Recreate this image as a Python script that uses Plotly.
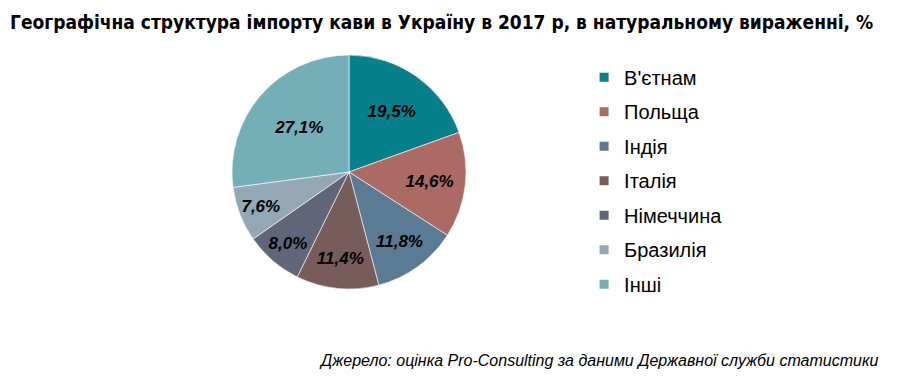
import plotly.graph_objects as go

countries = ["В'єтнам", "Польща", "Індія", "Італія", "Німеччина", "Бразилія", "Інші"]
shares = [19.5, 14.6, 11.8, 11.4, 8.0, 7.6, 27.1]
colors = ["#07808b", "#ab6a63", "#5a7b93", "#775c5b", "#616579", "#93a7b6", "#74afb8"]

title_text = "Географічна структура імпорту кави в Україну в 2017 р, в натуральному вираженні, %"
source_text = "Джерело: оцінка Pro-Consulting за даними Державної служби статистики"

W, H = 900, 377
cx, cy, r = 349, 172, 117

fig = go.Figure()
fig.add_trace(go.Pie(
    labels=countries,
    values=shares,
    sort=False,
    direction="clockwise",
    rotation=0,
    marker=dict(colors=colors, line=dict(color="rgba(255,255,255,0.6)", width=1)),
    texttemplate="<b><i>%{value:.1f}%</i></b>",
    textposition="inside",
    insidetextorientation="horizontal",
    textfont=dict(family="Liberation Sans, Arial", size=17, color="black"),
    showlegend=False,
    hoverinfo="label+percent",
    domain=dict(x=[(cx - r) / W, (cx + r) / W],
                y=[(H - cy - r) / H, (H - cy + r) / H]),
))

# legend entries (one group per country for spacing)
for name, col in zip(countries, colors):
    fig.add_trace(go.Scatter(
        x=[None], y=[None], mode="markers", name=name,
        marker=dict(symbol="square", size=9, color=col),
        legendgroup=name, showlegend=True,
    ))

fig.update_layout(
    width=W, height=H,
    margin=dict(l=0, r=0, t=0, b=0),
    paper_bgcolor="white", plot_bgcolor="white",
    separators=", ",
    xaxis=dict(visible=False), yaxis=dict(visible=False),
    legend=dict(
        x=0.649, y=0.847, xanchor="left", yanchor="top",
        font=dict(family="Liberation Sans, Arial", size=20, color="black"),
        tracegroupgap=5.5, itemclick=False, itemdoubleclick=False,
    ),
    annotations=[
        dict(text="<b>" + title_text + "</b>", x=8 / W, y=1 - 22 / H,
             xref="paper", yref="paper", xanchor="left", yanchor="middle",
             showarrow=False,
             font=dict(family="DejaVu Sans Condensed, Liberation Sans Narrow, Arial Narrow", size=19, color="black")),
        dict(text="<i>" + source_text + "</i>", x=880 / W, y=1 - 360 / H,
             xref="paper", yref="paper", xanchor="right", yanchor="middle",
             showarrow=False,
             font=dict(family="Liberation Sans, Arial", size=16, color="black")),
    ],
)

fig.write_html("out.html", config={"displayModeBar": False},
               post_script="document.body.style.margin='0';")
